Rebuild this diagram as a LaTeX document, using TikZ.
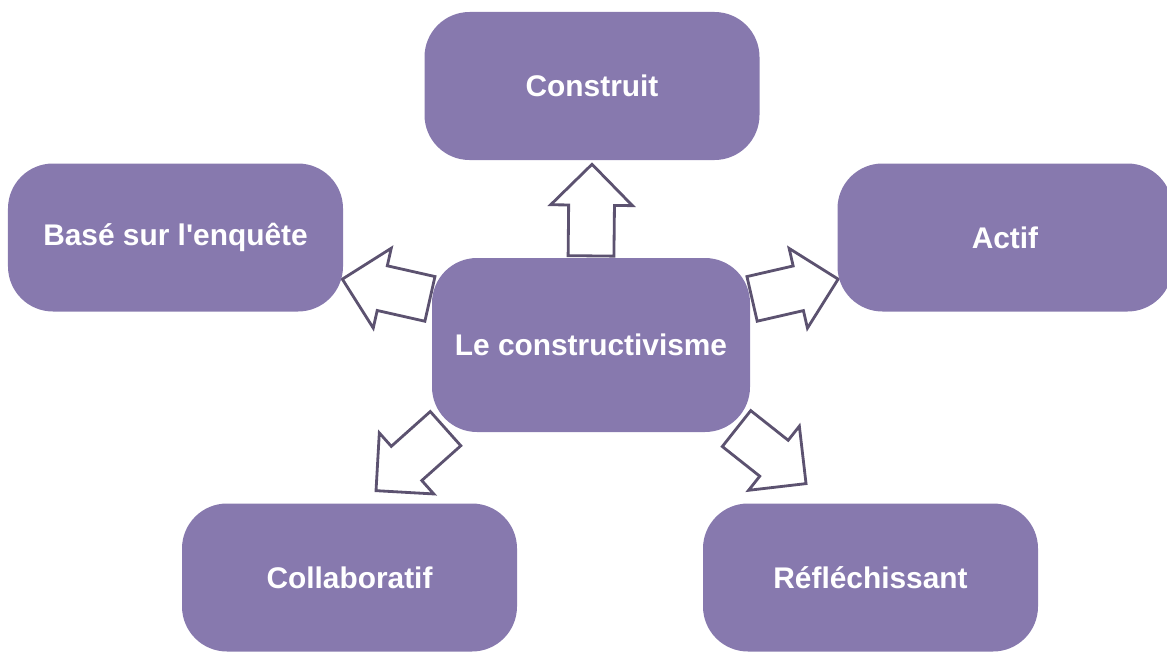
\documentclass[tikz,border=0pt]{standalone}
\usepackage{fontspec}
\setmainfont{Liberation Sans}
\usetikzlibrary{shapes.arrows,calc,backgrounds}

\definecolor{boxpurple}{RGB}{135,121,174}
\definecolor{arrowline}{RGB}{92,82,112}

% hollow block arrow from #2 to #3, named #1
\newcommand{\bigarrow}[3]{%
  \path let \p1=($(#3)-(#2)$), \n1={atan2(\y1,\x1)}, \n2={veclen(\x1,\y1)} in
    node[fat arrow, rotate=\n1, minimum height=\n2, anchor=tail] (#1) at (#2) {};
}

\begin{document}
\begin{tikzpicture}[thick,
    topic/.style={rectangle, rounded corners=0.9cm, fill=boxpurple, text=white,
                  font=\fontsize{17}{20}\selectfont\bfseries,
                  minimum width=6.7cm, minimum height=2.96cm},
    fat arrow/.style={single arrow, draw=arrowline, fill=white, line width=1.6pt,
                  inner xsep=0pt, inner ysep=0.43cm, single arrow head extend=0.36cm,
                  single arrow tip angle=90}]

  \useasboundingbox (0,0) rectangle (23.34,13.12);
  \clip (0,0) rectangle (23.34,13.12);

  \node[topic, minimum width=6.36cm, minimum height=3.48cm] (hub) at (11.82,6.22) {Le constructivisme};
  \node[topic] (top)    at (11.84,11.40) {Construit};
  \node[topic] (base)   at (3.51,8.37)   {Basé sur l\textquotesingle enquête};
  \node[topic] (actif)  at (20.10,8.37)  {Actif};
  \node[topic] (coll)   at (6.99,1.57)   {Collaboratif};
  \node[topic] (reflex) at (17.41,1.57)  {Réfléchissant};

  % arrows sit behind the boxes
  \begin{scope}[on background layer]
    \bigarrow{a-top}{hub.north}{$(top.south)+(0,-0.1)$}
    \bigarrow{a-base}{hub.164}{base.-14}
    \bigarrow{a-actif}{hub.16}{actif.194}
    \bigarrow{a-coll}{$(hub.210)+(0.15,0.1)$}{$(coll.north)+(0.55,0.26)$}
    \bigarrow{a-reflex}{$(hub.-30)+(-0.15,0.1)$}{$(reflex.north)+(-1.31,0.4)$}
  \end{scope}
\end{tikzpicture}
\end{document}
